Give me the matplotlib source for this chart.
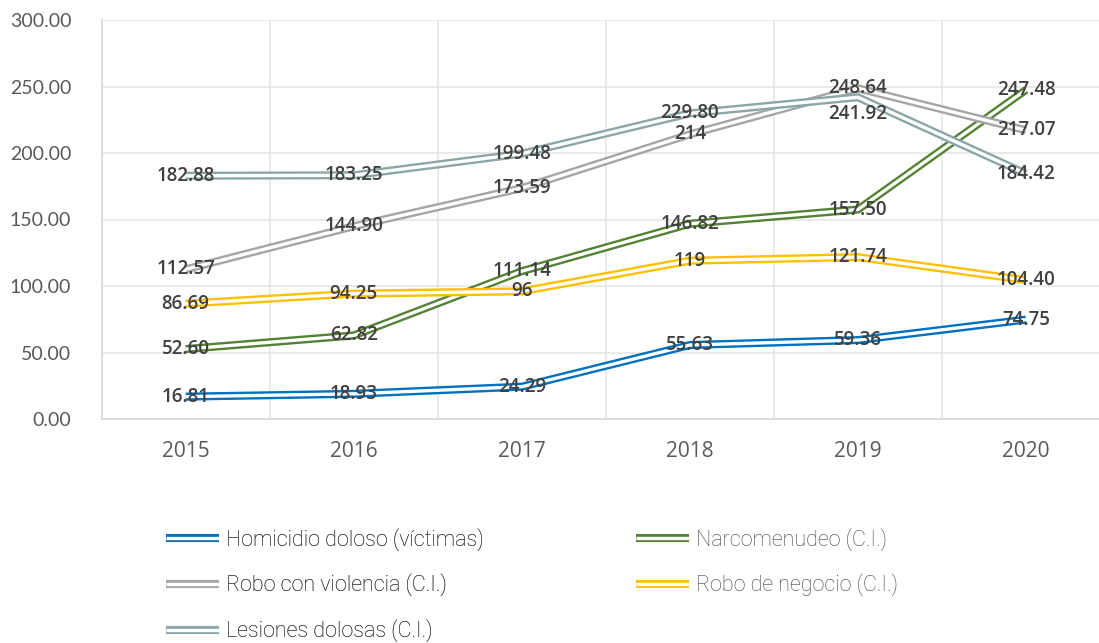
import matplotlib
matplotlib.use("Agg")
import matplotlib.pyplot as plt
import matplotlib.patheffects as pe

years = ["2015", "2016", "2017", "2018", "2019", "2020"]

homicidio = [16.81, 18.93, 24.29, 55.63, 59.36, 74.75]
narcomenudeo = [52.60, 62.82, 111.14, 146.82, 157.50, 247.48]
robo_violencia = [112.57, 144.90, 173.59, 214, 248.64, 217.07]
robo_negocio = [86.69, 94.25, 96, 119, 121.74, 104.40]
lesiones = [182.88, 183.25, 199.48, 229.80, 241.92, 184.42]

homicidio_lbl = ["16.81", "18.93", "24.29", "55.63", "59.36", "74.75"]
narcomenudeo_lbl = ["52.60", "62.82", "111.14", "146.82", "157.50", "247.48"]
robo_violencia_lbl = ["112.57", "144.90", "173.59", "214", "248.64", "217.07"]
robo_negocio_lbl = ["86.69", "94.25", "96", "119", "121.74", "104.40"]
lesiones_lbl = ["182.88", "183.25", "199.48", "229.80", "241.92", "184.42"]

series_names = ["Homicidio doloso (víctimas)", "Narcomenudeo (C.I.)",
                "Robo con violencia (C.I.)", "Robo de negocio (C.I.)",
                "Lesiones dolosas (C.I.)"]
y_ticks = [0, 50, 100, 150, 200, 250, 300]

series = [homicidio, narcomenudeo, robo_violencia, robo_negocio, lesiones]
labels = [homicidio_lbl, narcomenudeo_lbl, robo_violencia_lbl, robo_negocio_lbl, lesiones_lbl]
colors = ["#0070C0", "#548235", "#A5A5A5", "#FFC000", "#8BA6A6"]

fig = plt.figure(figsize=(10.99, 6.43), dpi=100)
W, H = 1099, 643
left_px, right_px, top_px, bot_px = 101.7, 1110, 20, 419
ax = fig.add_axes([left_px / W, 1 - bot_px / H, (right_px - left_px) / W, (bot_px - top_px) / H])

x = list(range(len(years)))
OUTER, INNER = 5.8, 2.4
handles = []
for i, (vals, c) in enumerate(zip(series, colors)):
    ln, = ax.plot(x, vals, color="white", lw=INNER, solid_joinstyle="miter", solid_capstyle="butt",
                  zorder=3 + i * 0.1,
                  path_effects=[pe.Stroke(linewidth=OUTER, foreground=c), pe.Normal()])
    handles.append(ln)

label_font = dict(family=["Open Sans", "DejaVu Sans"], fontsize=13.5, fontweight="semibold", color="#404040")
for vals, lbls in zip(series, labels):
    for xi, v, t in zip(x, vals, lbls):
        dy = 0
        if t == "241.92":
            dy = -12
        ax.annotate(t, (xi, v), xytext=(0, dy), textcoords="offset points",
                    ha="center", va="center", zorder=10, **label_font)

ax.set_xlim(-0.5, len(years) - 0.5)
ax.set_ylim(0, 300)
ax.set_yticks(y_ticks)
ax.set_yticklabels([f"{v:.2f}" for v in y_ticks], family=["Lato", "DejaVu Sans"],
                   fontsize=14, color="#595959")
ax.set_xticks(x)
ax.set_xticklabels(years, family=["Open Sans", "DejaVu Sans"], fontsize=15, color="#595959")
ax.set_xticks([i - 0.5 for i in range(len(years) + 1)], minor=True)
ax.tick_params(axis="both", which="both", length=0)
ax.tick_params(axis="y", pad=22)
ax.tick_params(axis="x", pad=16)
ax.grid(axis="y", color="#E6E6E6", lw=1.2)
ax.grid(axis="x", which="minor", color="#E6E6E6", lw=1.2)
ax.set_axisbelow(True)
for s in ["top", "right"]:
    ax.spines[s].set_visible(False)
for s in ["left", "bottom"]:
    ax.spines[s].set_color("#D9D9D9")
    ax.spines[s].set_linewidth(1.2)

leg_font = dict(family=["Roboto", "Lato", "DejaVu Sans"], size=15.5, weight="light")
def make_legend(idx, xpx):
    leg = fig.legend([handles[i] for i in idx], [series_names[i] for i in idx],
                     loc="upper left", bbox_to_anchor=(xpx / W, 1 - 528 / H),
                     frameon=False, prop=leg_font, handlelength=2.48,
                     handletextpad=0.29, labelspacing=1.065, borderaxespad=0, borderpad=0)
    for t in leg.get_texts():
        t.set_color("#404040")
    return leg

l1 = make_legend([0, 2, 4], 166)
fig.add_artist(l1)
l2 = make_legend([1, 3], 636)

fig.savefig("out.png", dpi=100)
